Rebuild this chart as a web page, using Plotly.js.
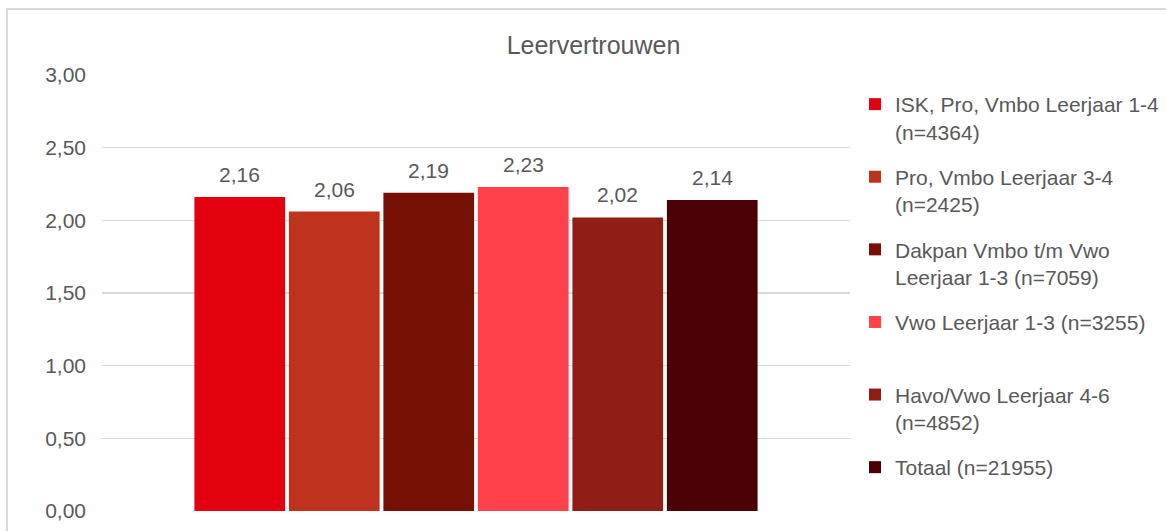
<!DOCTYPE html>
<html>
<head>
<meta charset="utf-8">
<script src="https://cdn.plot.ly/plotly-3.0.1.min.js"></script>
<style>
  html, body { margin: 0; padding: 0; background: #ffffff; }
  #chart { width: 1166px; height: 531px; }
</style>
</head>
<body>
<div id="chart"></div>
<script>
// Leervertrouwen per schooltype
const category = ['Leervertrouwen'];
const seriesNames = [
  'ISK, Pro, Vmbo Leerjaar 1-4<br>(n=4364)',
  'Pro, Vmbo Leerjaar 3-4<br>(n=2425)',
  'Dakpan Vmbo t/m Vwo<br>Leerjaar 1-3 (n=7059)',
  'Vwo Leerjaar 1-3 (n=3255)<br>&nbsp;',
  'Havo/Vwo Leerjaar 4-6<br>(n=4852)',
  'Totaal (n=21955)'
];
const seriesValues = [2.16, 2.06, 2.19, 2.23, 2.02, 2.14];
const seriesColors = ['#E3000F', '#BE321E', '#761005', '#FF414B', '#901E14', '#4B0005'];
const yTicks = [0, 0.5, 1, 1.5, 2, 2.5, 3];

const textGrey = '#595959';
const gridGrey = '#D9D9D9';
const fontFamily = '"Liberation Sans", Arial, sans-serif';

const traces = seriesNames.map((name, i) => ({
  type: 'bar',
  name: name,
  x: category,
  y: [seriesValues[i]],
  legendgroup: 'g' + i,
  marker: { color: seriesColors[i], line: { width: 0 } },
  hoverinfo: 'skip'
}));

// plot area: 102..850 px wide, 75..511 px tall
const W = 748, H = 436, L = 102, B = 511;
const px = v => (v - L) / W;
const py = v => (B - v) / H;

// value labels above each bar of the group (slot width in px follows bargap / group size)
const bargap = 0.242;
const slot = W * (1 - bargap) / seriesValues.length;
const labels = seriesValues.map((v, i) => ({
  xref: 'x', yref: 'y',
  x: category[0], y: v,
  text: v.toFixed(2).replace('.', ','),
  showarrow: false,
  xanchor: 'center', yanchor: 'bottom',
  xshift: (i - (seriesValues.length - 1) / 2) * slot,
  yshift: 9,
  font: { family: fontFamily, size: 21, color: textGrey }
}));

const layout = {
  width: 1166,
  height: 531,
  margin: { l: L, r: 1166 - L - W, t: 75, b: 531 - B, autoexpand: false },
  paper_bgcolor: '#ffffff',
  plot_bgcolor: '#ffffff',
  separators: ',.',
  font: { family: fontFamily, color: textGrey, size: 21 },
  title: {
    text: 'Leervertrouwen',
    font: { family: fontFamily, size: 25, color: textGrey },
    x: 0.509, xanchor: 'center',
    y: 1 - 45 / 531, yanchor: 'middle'
  },
  barmode: 'group',
  bargap: bargap,
  bargroupgap: 0.04,
  showlegend: true,
  legend: {
    x: px(855), xanchor: 'left',
    y: py(84), yanchor: 'top',
    valign: 'top',
    traceorder: 'grouped',
    tracegroupgap: 15,
    font: { family: fontFamily, size: 21, color: textGrey },
    bgcolor: 'rgba(0,0,0,0)',
    itemwidth: 30
  },
  annotations: labels,
  xaxis: {
    showticklabels: false,
    showgrid: false,
    zeroline: false,
    showline: false,
    ticks: '',
    fixedrange: true
  },
  yaxis: {
    range: [0, 3],
    tickvals: yTicks,
    tickformat: '.2f',
    showgrid: true,
    gridcolor: gridGrey,
    gridwidth: 1.5,
    zeroline: false,
    showline: false,
    ticks: '',
    ticklabelstandoff: 15,
    tickfont: { family: fontFamily, size: 21, color: textGrey },
    fixedrange: true
  },
  shapes: [{
    type: 'rect', xref: 'paper', yref: 'paper',
    x0: px(7), x1: px(1200), y0: py(560), y1: py(9),
    line: { color: gridGrey, width: 2 },
    fillcolor: 'rgba(0,0,0,0)',
    layer: 'below'
  }]
};

Plotly.newPlot('chart', traces, layout, { staticPlot: true, displayModeBar: false });
</script>
</body>
</html>
